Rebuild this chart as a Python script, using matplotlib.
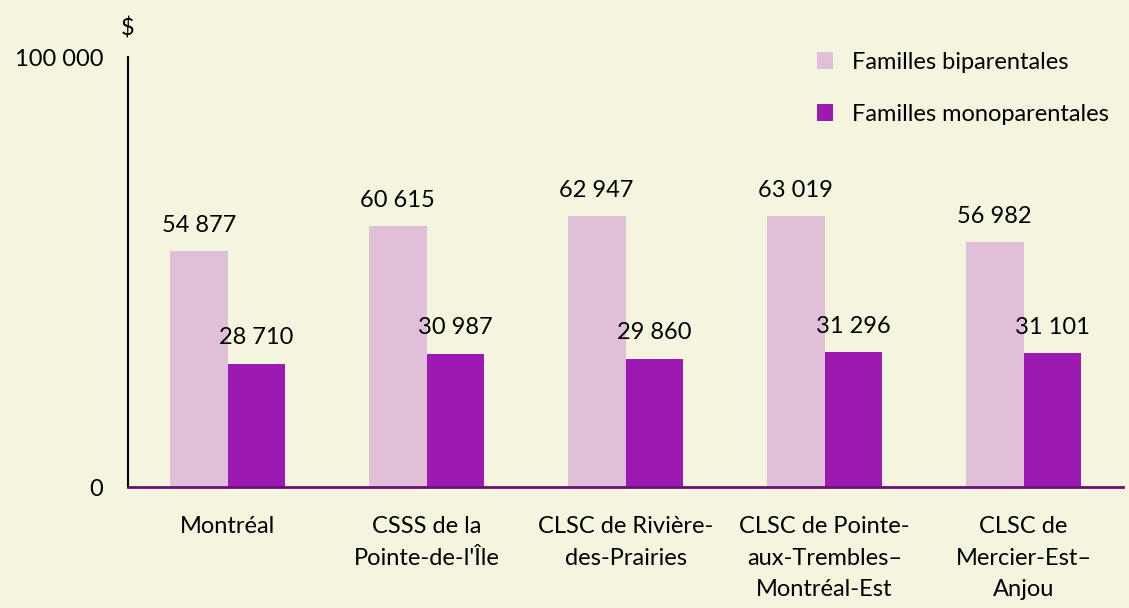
import matplotlib.pyplot as plt
import numpy as np

# categories and values
categories = ["Montréal", "CSSS de la\nPointe-de-l'Île", "CLSC de Rivière-\ndes-Prairies",
              "CLSC de Pointe-\naux-Trembles–\nMontréal-Est", "CLSC de\nMercier-Est–\nAnjou"]
biparentales = [54877, 60615, 62947, 63019, 56982]
monoparentales = [28710, 30987, 29860, 31296, 31101]
series_names = ["Familles biparentales", "Familles monoparentales"]
y_ticks = [0, 100000]
y_tick_labels = ["0", "100 000"]


def fmt(v):
    return f"{v:,}".replace(",", " ")


def create_bar_chart():
    plt.rcParams['font.family'] = ['Lato', 'DejaVu Sans']
    bg = '#f5f5df'
    light = '#e0bfd8'
    dark = '#9c1ab2'
    fs = 17

    fig = plt.figure(figsize=(11.29, 6.08), dpi=100, facecolor=bg)
    ax = fig.add_axes([0.1134, 0.1990, 0.8813, 0.7072])
    ax.set_facecolor(bg)

    x = np.arange(len(categories))
    w = 0.29
    b1 = ax.bar(x - w / 2, biparentales, w, color=light, label=series_names[0])
    b2 = ax.bar(x + w / 2, monoparentales, w, color=dark, label=series_names[1])

    # value labels above bars
    for bars, vals in ((b1, biparentales), (b2, monoparentales)):
        for r, v in zip(bars, vals):
            ax.annotate(fmt(v), (r.get_x() + r.get_width() / 2, v), xytext=(0, 11),
                        textcoords='offset points', ha='center', va='bottom', fontsize=fs)

    ax.set_xlim(-0.5, len(categories) - 0.5)
    ax.set_ylim(0, 100000)
    ax.set_yticks(y_ticks)
    ax.set_yticklabels(y_tick_labels, fontsize=fs)
    ax.set_xticks(x)
    ax.set_xticklabels(categories, fontsize=fs, linespacing=1.62, va='top')
    ax.tick_params(axis='both', length=0)
    ax.tick_params(axis='y', pad=18)
    ax.tick_params(axis='x', pad=21)

    for s in ('top', 'right'):
        ax.spines[s].set_visible(False)
    ax.spines['left'].set_color('black')
    ax.spines['left'].set_linewidth(1.5)
    ax.spines['bottom'].set_color('#6a1070')
    ax.spines['bottom'].set_linewidth(2)

    # "$" unit label above the y axis
    ax.text(0, 1.04, "$", transform=ax.transAxes, ha='center', va='bottom', fontsize=fs)

    ax.legend(loc='upper right', bbox_to_anchor=(1.0, 1.045), frameon=False, fontsize=fs,
              handlelength=0.7, handleheight=0.7, handletextpad=0.8, labelspacing=1.3,
              borderaxespad=0.2)

    fig.savefig('out.png', dpi=100, facecolor=bg)


if __name__ == "__main__":
    create_bar_chart()
